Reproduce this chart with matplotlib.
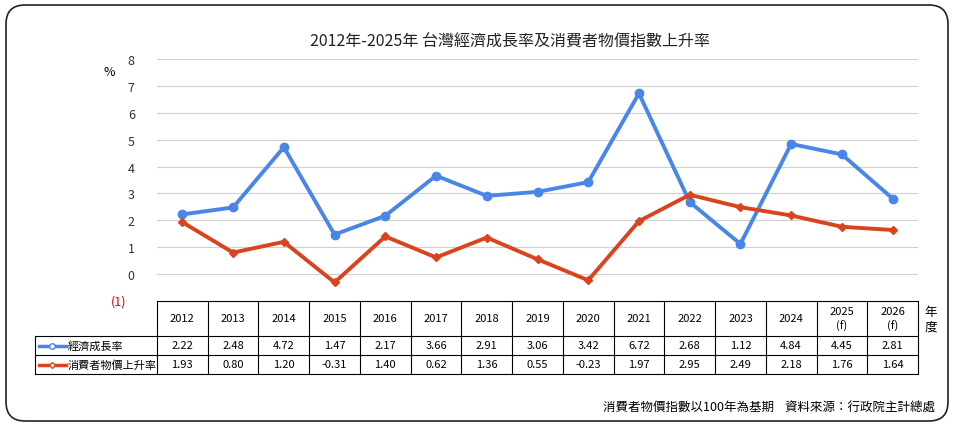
import matplotlib
matplotlib.use("Agg")
import matplotlib.pyplot as plt
from matplotlib import font_manager
from matplotlib.patches import FancyBboxPatch
from matplotlib.lines import Line2D

cjk = [f.name for f in font_manager.fontManager.ttflist if "CJK" in f.name]
pref = [n for n in ["Noto Sans CJK TC", "Noto Sans CJK JP", "Noto Sans CJK SC", "Noto Sans CJK KR"] if n in cjk] or cjk
plt.rcParams["font.family"] = (pref[:1] if pref else []) + ["DejaVu Sans"]

years = ["2012","2013","2014","2015","2016","2017","2018","2019","2020","2021","2022","2023","2024","2025\n(f)","2026\n(f)"]
gdp = [2.22,2.48,4.72,1.47,2.17,3.66,2.91,3.06,3.42,6.72,2.68,1.12,4.84,4.45,2.81]
cpi = [1.93,0.80,1.20,-0.31,1.40,0.62,1.36,0.55,-0.23,1.97,2.95,2.49,2.18,1.76,1.64]
series_names = ["經濟成長率", "消費者物價上升率"]
yticks = [0,1,2,3,4,5,6,7,8]

W, H = 954, 427
BLUE = "#4a86e8"
RED = "#d9441f"
fig = plt.figure(figsize=(W/100, H/100), dpi=100)

def fx(x): return x / W
def fy(y): return 1 - y / H

fig.patches.append(FancyBboxPatch((fx(6), fy(422)), fx(942), 416/H,
    boxstyle="round,pad=0,rounding_size=0.02", transform=fig.transFigure,
    fill=False, edgecolor="#222222", lw=1.2, mutation_aspect=W/H))

L, R, T, B = 157, 918, 60, 302
ax = fig.add_axes([fx(L), fy(B), fx(R-L), (B-T)/H])
n = len(years)
xs = list(range(n))
ax.set_xlim(-0.5, n-0.5)
ax.set_ylim(-1, 8)
for v in yticks:
    ax.axhline(v, color="#d0d0d0", lw=0.8, zorder=0)
ax.plot(xs, gdp, color=BLUE, lw=2.8, marker="o", ms=6, zorder=3)
ax.plot(xs, cpi, color=RED, lw=2.8, marker="D", ms=4.5, zorder=3)
ax.set_yticks(yticks)
ax.set_yticklabels([str(v) for v in yticks], fontsize=9, color="#333333")
ax.tick_params(axis="y", length=0, pad=16)
ax.set_xticks([])
for s in ax.spines.values():
    s.set_visible(False)
ax.text(-0.04, -1, "(1)", transform=ax.get_yaxis_transform(), color="#e00000",
        fontsize=9, ha="right", va="center")
ax.text(-0.055, 7.55, "%", transform=ax.get_yaxis_transform(), fontsize=9, ha="right", va="center")

fig.text(fx(510), fy(42), "2012年-2025年 台灣經濟成長率及消費者物價指數上升率",
         ha="center", va="center", fontsize=11.5, color="#222222")

cw = (R - L) / n
def hline(x0, x1, y):
    fig.add_artist(Line2D([fx(x0), fx(x1)], [fy(y), fy(y)], color="black", lw=0.8, transform=fig.transFigure))
def vline(x, y0, y1):
    fig.add_artist(Line2D([fx(x), fx(x)], [fy(y0), fy(y1)], color="black", lw=0.8, transform=fig.transFigure))
hline(L, R, 302)
hline(35, R, 337); hline(35, R, 356); hline(35, R, 375)
vline(35, 337, 375)
for i in range(n + 1):
    vline(L + i*cw, 302, 375)
for i in range(n):
    cx = L + (i + 0.5) * cw
    fig.text(fx(cx), fy(319.5), years[i], ha="center", va="center", fontsize=8, linespacing=1.5)
    fig.text(fx(cx), fy(346.5), f"{gdp[i]:.2f}", ha="center", va="center", fontsize=8)
    fig.text(fx(cx), fy(365.5), f"{cpi[i]:.2f}", ha="center", va="center", fontsize=8)
fig.text(fx(931), fy(320), "年\n度", ha="center", va="center", fontsize=9, linespacing=1.2)
for row, (col, mk, ms, name) in enumerate([(BLUE, "o", 4, series_names[0]), (RED, "D", 3, series_names[1])]):
    y = fy(346.5 + 19*row)
    fig.add_artist(Line2D([fx(39), fx(66)], [y, y], color=col, lw=2.5, transform=fig.transFigure))
    fig.add_artist(Line2D([fx(52.5)], [y], color=col, marker=mk, ms=ms, mfc="white", transform=fig.transFigure))
    fig.text(fx(68), y, name, ha="left", va="center", fontsize=8)

fig.text(fx(935), fy(407), "消費者物價指數以100年為基期    資料來源：行政院主計總處",
         ha="right", va="center", fontsize=9)

fig.savefig("out.png", dpi=100)
